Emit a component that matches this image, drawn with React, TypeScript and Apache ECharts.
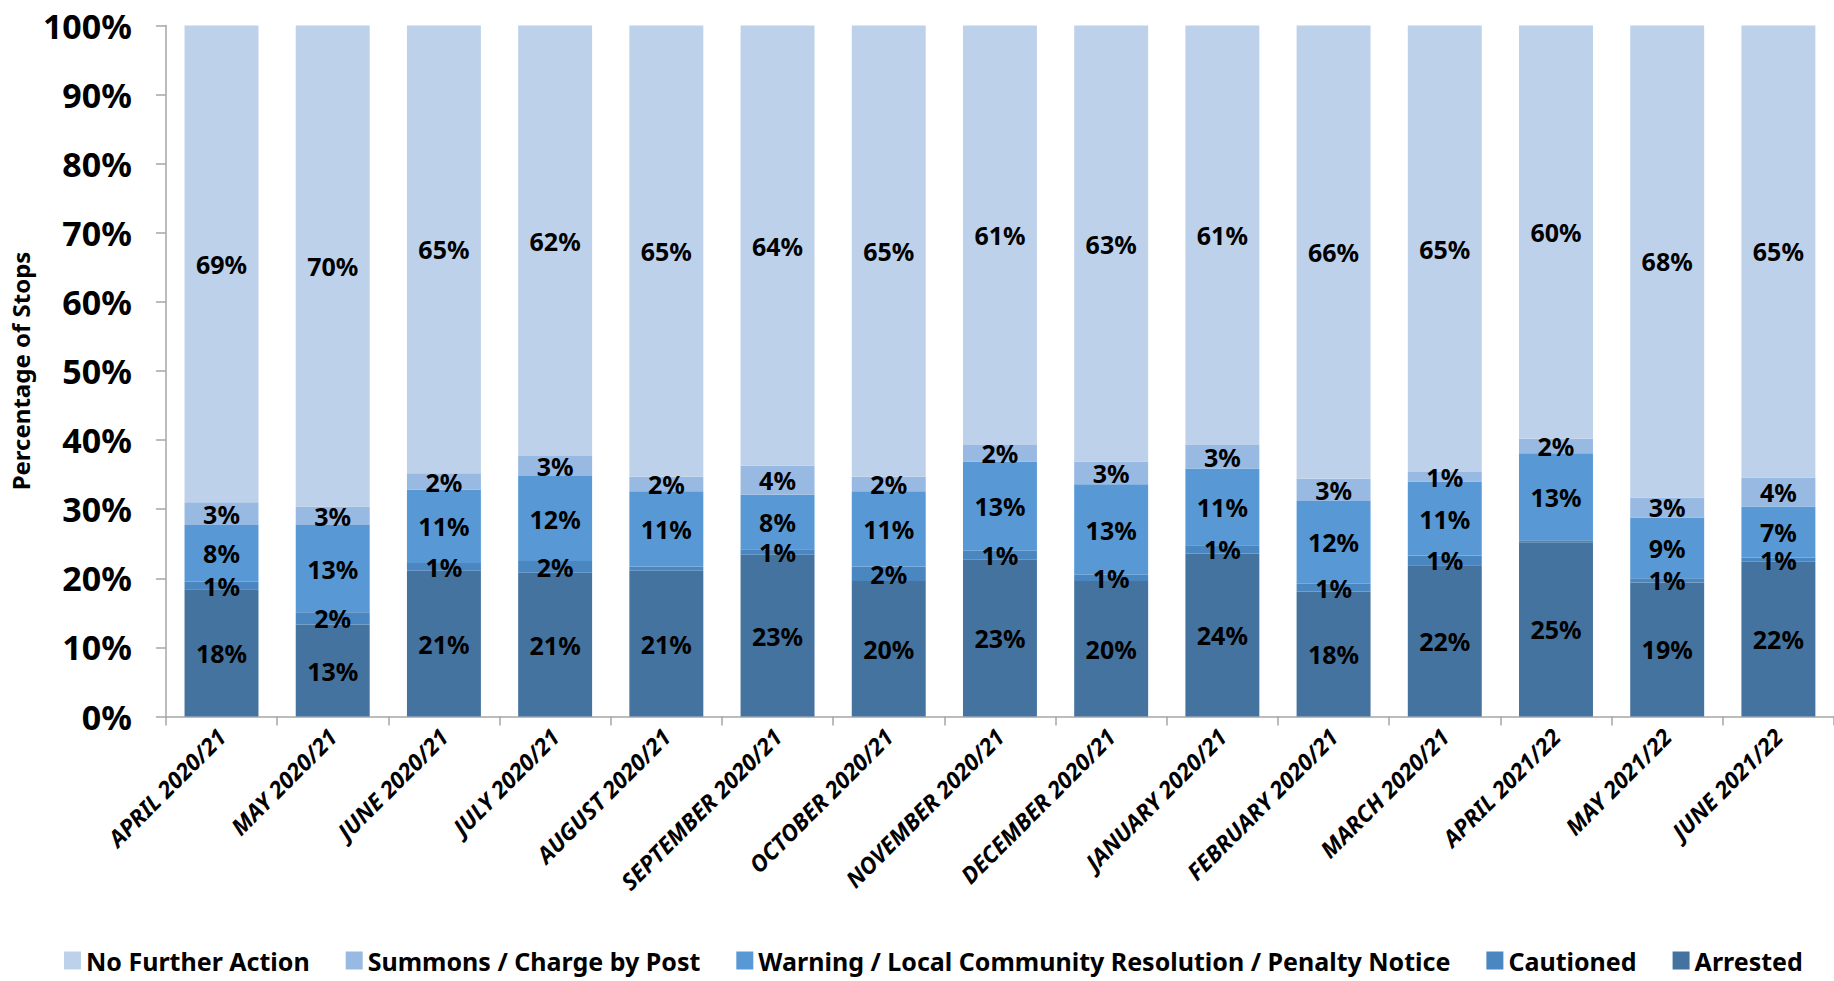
import React, { useEffect, useRef } from "react";
import * as echarts from "echarts";

const categories = [
  "APRIL 2020/21", "MAY 2020/21", "JUNE 2020/21", "JULY 2020/21", "AUGUST 2020/21",
  "SEPTEMBER 2020/21", "OCTOBER 2020/21", "NOVEMBER 2020/21", "DECEMBER 2020/21",
  "JANUARY 2020/21", "FEBRUARY 2020/21", "MARCH 2020/21", "APRIL 2021/22",
  "MAY 2021/22", "JUNE 2021/22",
];
const arrested = [18.4, 13.3, 21.1, 20.8, 21.1, 23.4, 19.6, 22.7, 19.6, 23.6, 18.1, 21.9, 25.2, 19.4, 22.4];
const cautioned = [1.1, 1.8, 1.1, 1.7, 0.6, 0.8, 2.1, 1.3, 0.9, 1.2, 1.1, 1.4, 0.3, 0.6, 0.6];
const warning = [8.2, 12.6, 10.6, 12.3, 10.9, 7.9, 10.9, 12.9, 13.1, 11.1, 12.0, 10.7, 12.6, 8.8, 7.4];
const summons = [3.3, 2.7, 2.4, 2.9, 2.1, 4.2, 2.1, 2.4, 3.3, 3.4, 3.2, 1.4, 2.1, 2.9, 4.2];
const noFurther = [69.0, 69.6, 64.8, 62.3, 65.3, 63.7, 65.3, 60.7, 63.1, 60.7, 65.6, 64.6, 59.8, 68.3, 65.4];
const cautionedHiddenLabels = [4, 12];

const seriesNames = [
  "Arrested",
  "Cautioned",
  "Warning / Local Community Resolution / Penalty Notice",
  "Summons / Charge by Post",
  "No Further Action",
];
const legendOrder = [
  "No Further Action",
  "Summons / Charge by Post",
  "Warning / Local Community Resolution / Penalty Notice",
  "Cautioned",
  "Arrested",
];
const colors = ["#44739F", "#4A86C0", "#5899D5", "#98B9E1", "#BED1EA"];

const FONT = "'Noto Sans', sans-serif";

export default function App() {
  const ref = useRef<HTMLDivElement>(null);
  useEffect(() => {
    document.body.style.margin = "0";
    if (!ref.current) return;
    const chart = echarts.init(ref.current, null, { renderer: "svg" });
    const values = [
      arrested,
      cautioned.map((v, i) =>
        cautionedHiddenLabels.includes(i) ? { value: v, label: { show: false } } : v
      ),
      warning,
      summons,
      noFurther,
    ];
    chart.setOption({
      animation: false,
      textStyle: { fontFamily: FONT },
      grid: { left: 161, right: -16, top: 25.5, bottom: 264.5, containLabel: false },
      legend: {
        data: legendOrder,
        top: 948,
        left: 64,
        padding: 0,
        icon: "rect",
        itemWidth: 17,
        itemHeight: 18,
        itemGap: 36,
        textStyle: { fontFamily: FONT, fontWeight: "bold", fontSize: 25, color: "#000" },
      },
      xAxis: {
        type: "category",
        data: categories,
        axisLine: { lineStyle: { color: "#A6A6A6", width: 1.5 } },
        axisTick: { show: true, length: 9, lineStyle: { color: "#A6A6A6", width: 1.5 } },
        axisLabel: {
          rotate: 45,
          margin: 16,
          interval: 0,
          fontFamily: FONT,
          fontWeight: "bold",
          fontStyle: "italic",
          fontSize: 23,
          color: "#000",
        },
      },
      yAxis: {
        type: "value",
        min: 0,
        max: 100,
        interval: 10,
        name: "Percentage of Stops",
        nameLocation: "middle",
        nameGap: 118,
        nameTextStyle: { fontFamily: FONT, fontWeight: "bold", fontSize: 24, color: "#000" },
        splitLine: { show: false },
        axisLine: { show: true, lineStyle: { color: "#A6A6A6", width: 1.5 } },
        axisTick: { show: true, length: 10, lineStyle: { color: "#A6A6A6", width: 1.5 } },
        axisLabel: {
          margin: 34,
          fontFamily: FONT,
          fontWeight: "bold",
          fontSize: 34,
          color: "#000",
          formatter: (v: number) => v + "%",
        },
      },
      series: seriesNames.map((name, i) => ({
        name,
        type: "bar",
        stack: "total",
        barWidth: "66.5%",
        data: values[i],
        itemStyle: { color: colors[i] },
        label: {
          show: true,
          position: "inside",
          fontFamily: FONT,
          fontWeight: "bold",
          fontSize: 25,
          color: "#000",
          formatter: (p: any) => Math.round(p.value) + "%",
        },
      })),
    });
    return () => chart.dispose();
  }, []);
  return <div ref={ref} style={{ width: 1834, height: 981 }} />;
}
